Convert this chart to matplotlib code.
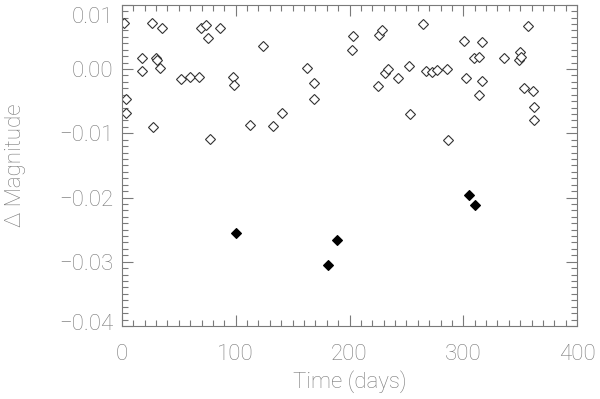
import matplotlib
matplotlib.use("Agg")
import matplotlib.pyplot as plt
from matplotlib.ticker import MultipleLocator, FuncFormatter
from matplotlib.transforms import ScaledTranslation

# open diamonds
t_open = [2.0, 3.5, 3.5, 17.9, 17.9, 26.1, 27.3, 29.9, 30.8, 33.4, 34.9, 51.9, 60.1,
          67.7, 69.2, 73.8, 75.9, 77.6, 85.9, 97.9, 98.5, 112.5, 123.7, 132.5, 140.4,
          162.3, 169.1, 169.1, 201.9, 203.1, 225.3, 226.2, 228.6, 231.2, 233.6, 242.9,
          252.6, 253.5, 264.9, 267.3, 272.8, 277.2, 285.7, 286.6, 300.4, 302.7, 309.7,
          313.8, 316.5, 316.2, 313.6, 336.1, 349.9, 348.7, 350.8, 356.9, 353.7, 361.6,
          362.2, 361.9]
m_open = [0.0071, -0.0047, -0.0068, 0.0017, -0.0003, 0.0072, -0.0090, 0.0017, 0.0014,
          0.0001, 0.0064, -0.0016, -0.0012, -0.0012, 0.0064, 0.0068, 0.0049, -0.0109,
          0.0064, -0.0013, -0.0025, -0.0087, 0.0036, -0.0088, -0.0069, 0.0002, -0.0022,
          -0.0047, 0.0029, 0.0051, -0.0026, 0.0053, 0.0061, -0.0006, 0.0000, -0.0014,
          0.0005, -0.0070, 0.0070, -0.0003, -0.0004, -0.0002, 0.0000, -0.0111, 0.0044,
          -0.0014, 0.0017, 0.0019, 0.0042, -0.0018, -0.0040, 0.0017, 0.0026, 0.0014,
          0.0018, 0.0067, -0.0030, -0.0034, -0.0059, -0.0080]

# filled diamonds
t_fill = [100.2, 180.8, 188.7, 305.1, 310.3]
m_fill = [-0.0256, -0.0305, -0.0266, -0.0196, -0.0212]

x_label = "Time (days)"
y_label = "\u0394 Magnitude"

gray = "#7a7a7a"
plt.rcParams['font.family'] = ['Roboto', 'DejaVu Sans']

fig = plt.figure(figsize=(6.0, 3.99), dpi=100)
ax = fig.add_axes([0.2033, 0.183, 0.7584, 0.805])

ax.plot(t_open, m_open, linestyle='none', marker='D', ms=4.6,
        mfc='white', mec='#333333', mew=0.8)
ax.plot(t_fill, m_fill, linestyle='none', marker='D', ms=4.6,
        mfc='black', mec='black', mew=0.8)

ax.set_xlim(0, 400)
ax.set_ylim(-0.04, 0.01)
ax.xaxis.set_major_locator(MultipleLocator(100))
ax.xaxis.set_minor_locator(MultipleLocator(10))
ax.yaxis.set_major_locator(MultipleLocator(0.01))
ax.yaxis.set_minor_locator(MultipleLocator(0.001))
ax.yaxis.set_major_formatter(FuncFormatter(lambda v, p: ("%.2f" % v).replace('-', '\u2212')))
ax.xaxis.set_major_formatter(FuncFormatter(lambda v, p: "%d" % v))

ax.tick_params(which='both', direction='in', top=True, right=True, color=gray,
               labelcolor=gray, labelsize=16, width=0.8)
ax.tick_params(which='major', length=8)
ax.tick_params(which='minor', length=4)
ax.tick_params(axis='x', pad=13)
ax.tick_params(axis='y', pad=6)
for s in ax.spines.values():
    s.set_color(gray)
    s.set_linewidth(0.8)
for lab in ax.get_xticklabels() + ax.get_yticklabels():
    lab.set_fontweight(200)

# keep top/bottom y labels inside the figure like the reference
fig.canvas.draw()
for tk in ax.yaxis.get_major_ticks():
    y = tk.get_loc()
    if abs(y - 0.01) < 1e-9:
        tk.label1.set_transform(tk.label1.get_transform() +
                                ScaledTranslation(0, -7 / 72, fig.dpi_scale_trans))
    if abs(y + 0.04) < 1e-9:
        tk.label1.set_transform(tk.label1.get_transform() +
                                ScaledTranslation(0, 3 / 72, fig.dpi_scale_trans))

ax.set_xlabel(x_label, fontsize=16, color=gray, fontweight=200, labelpad=4)
ax.set_ylabel(y_label, fontsize=16, color=gray, fontweight=200, labelpad=24)

fig.savefig("out.png", dpi=100)
